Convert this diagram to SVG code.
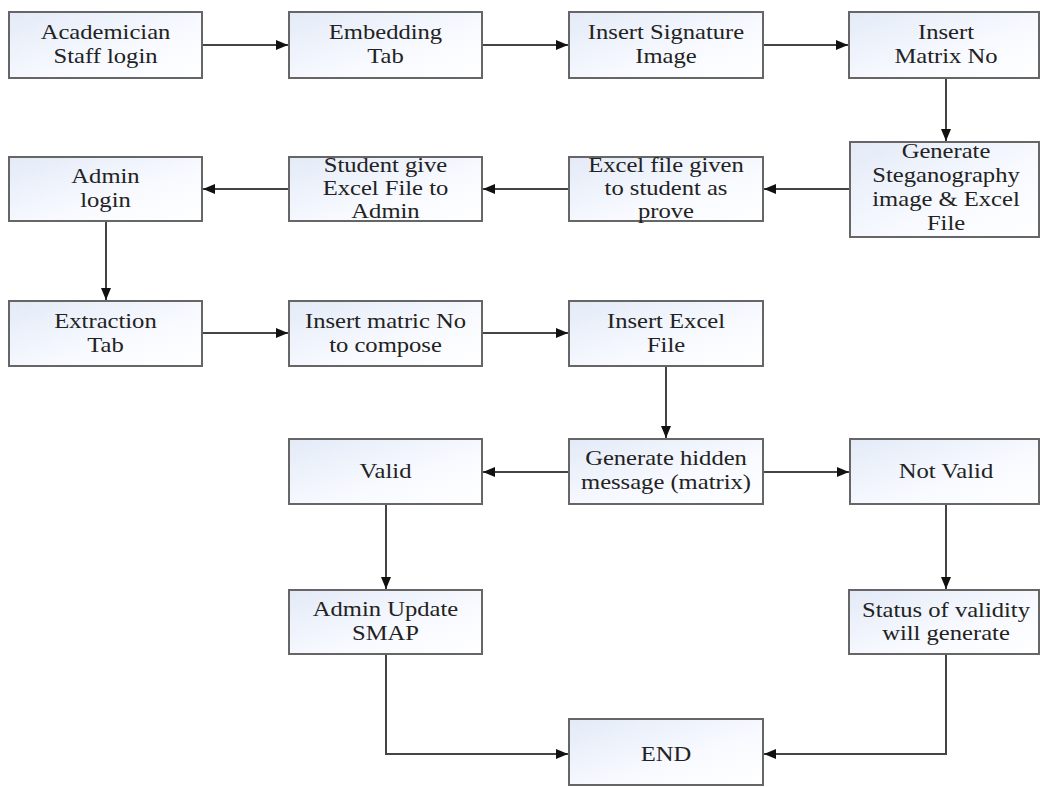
<svg xmlns="http://www.w3.org/2000/svg" width="1040" height="787" viewBox="0 0 1040 787">
<defs>
<linearGradient id="fillGrad" x1="0" y1="0" x2="1" y2="1">
<stop offset="0" stop-color="#e3eaf7"/>
<stop offset="0.6" stop-color="#f8faff"/>
<stop offset="1" stop-color="#ffffff"/>
</linearGradient>
<marker id="arr" markerUnits="userSpaceOnUse" markerWidth="13" markerHeight="11" refX="12" refY="5" orient="auto">
<path d="M0,0 L12,5 L0,10 z" fill="#111"/>
</marker>
<style>
.box{fill:url(#fillGrad);stroke:#666;stroke-width:2}
.lbl{font-family:"Liberation Serif","Times New Roman",serif;font-size:20.5px;fill:#222;text-anchor:middle}
.con{fill:none;stroke:#444;stroke-width:2}
</style>
</defs>
<rect width="1040" height="787" fill="#ffffff"/>
<g id="connectors">
<path class="con" d="M202,45 H288" marker-end="url(#arr)"/>
<path class="con" d="M482,45 H568" marker-end="url(#arr)"/>
<path class="con" d="M763,45 H848" marker-end="url(#arr)"/>
<path class="con" d="M946,78 V141" marker-end="url(#arr)"/>
<path class="con" d="M850,189 H764" marker-end="url(#arr)"/>
<path class="con" d="M569,189 H483" marker-end="url(#arr)"/>
<path class="con" d="M289,189 H203" marker-end="url(#arr)"/>
<path class="con" d="M106,221 V300" marker-end="url(#arr)"/>
<path class="con" d="M202,333 H288" marker-end="url(#arr)"/>
<path class="con" d="M482,333 H568" marker-end="url(#arr)"/>
<path class="con" d="M666,366 V438" marker-end="url(#arr)"/>
<path class="con" d="M569,472 H483" marker-end="url(#arr)"/>
<path class="con" d="M763,472 H849" marker-end="url(#arr)"/>
<path class="con" d="M386,504 V589" marker-end="url(#arr)"/>
<path class="con" d="M946,504 V589" marker-end="url(#arr)"/>
<path class="con" d="M386,654 V754 H568" marker-end="url(#arr)"/>
<path class="con" d="M946,654 V754 H764" marker-end="url(#arr)"/>
</g>
<g id="n1">
<rect class="box" x="9" y="12" width="193" height="66"/>
<text class="lbl" transform="translate(105.5,39) scale(1.2,1)">Academician</text>
<text class="lbl" transform="translate(105.5,63) scale(1.2,1)">Staff login</text>
</g>
<g id="n2">
<rect class="box" x="289" y="12" width="193" height="66"/>
<text class="lbl" transform="translate(385.5,39) scale(1.2,1)">Embedding</text>
<text class="lbl" transform="translate(385.5,63) scale(1.2,1)">Tab</text>
</g>
<g id="n3">
<rect class="box" x="569" y="12" width="194" height="66"/>
<text class="lbl" transform="translate(666,39) scale(1.2,1)">Insert Signature</text>
<text class="lbl" transform="translate(666,63) scale(1.2,1)">Image</text>
</g>
<g id="n4">
<rect class="box" x="849" y="12" width="190" height="66"/>
<text class="lbl" transform="translate(946,39) scale(1.2,1)">Insert</text>
<text class="lbl" transform="translate(946,63) scale(1.2,1)">Matrix No</text>
</g>
<g id="n5">
<rect class="box" x="850" y="142" width="189" height="95"/>
<text class="lbl" transform="translate(946,158) scale(1.2,1)">Generate</text>
<text class="lbl" transform="translate(946,182) scale(1.2,1)">Steganography</text>
<text class="lbl" transform="translate(946,206) scale(1.2,1)">image &amp; Excel</text>
<text class="lbl" transform="translate(946,230) scale(1.2,1)">File</text>
</g>
<g id="n6">
<rect class="box" x="569" y="157" width="194" height="64"/>
<text class="lbl" transform="translate(666,172) scale(1.2,1)">Excel file given</text>
<text class="lbl" transform="translate(666,195) scale(1.2,1)">to student as</text>
<text class="lbl" transform="translate(666,218) scale(1.2,1)">prove</text>
</g>
<g id="n7">
<rect class="box" x="289" y="157" width="193" height="64"/>
<text class="lbl" transform="translate(385.5,172) scale(1.2,1)">Student give</text>
<text class="lbl" transform="translate(385.5,195) scale(1.2,1)">Excel File to</text>
<text class="lbl" transform="translate(385.5,218) scale(1.2,1)">Admin</text>
</g>
<g id="n8">
<rect class="box" x="9" y="157" width="193" height="64"/>
<text class="lbl" transform="translate(105.5,183) scale(1.2,1)">Admin</text>
<text class="lbl" transform="translate(105.5,207) scale(1.2,1)">login</text>
</g>
<g id="n9">
<rect class="box" x="9" y="301" width="193" height="65"/>
<text class="lbl" transform="translate(105.5,328) scale(1.2,1)">Extraction</text>
<text class="lbl" transform="translate(105.5,352) scale(1.2,1)">Tab</text>
</g>
<g id="n10">
<rect class="box" x="289" y="301" width="193" height="65"/>
<text class="lbl" transform="translate(385.5,328) scale(1.2,1)">Insert matric No</text>
<text class="lbl" transform="translate(385.5,352) scale(1.2,1)">to compose</text>
</g>
<g id="n11">
<rect class="box" x="569" y="301" width="194" height="65"/>
<text class="lbl" transform="translate(666,328) scale(1.2,1)">Insert Excel</text>
<text class="lbl" transform="translate(666,352) scale(1.2,1)">File</text>
</g>
<g id="n12">
<rect class="box" x="569" y="439" width="194" height="65"/>
<text class="lbl" transform="translate(666,465) scale(1.2,1)">Generate hidden</text>
<text class="lbl" transform="translate(666,489) scale(1.2,1)">message (matrix)</text>
</g>
<g id="n13">
<rect class="box" x="289" y="439" width="193" height="65"/>
<text class="lbl" transform="translate(385.5,478) scale(1.2,1)">Valid</text>
</g>
<g id="n14">
<rect class="box" x="850" y="439" width="189" height="65"/>
<text class="lbl" transform="translate(946,478) scale(1.2,1)">Not Valid</text>
</g>
<g id="n15">
<rect class="box" x="289" y="590" width="193" height="64"/>
<text class="lbl" transform="translate(385.5,616) scale(1.2,1)">Admin Update</text>
<text class="lbl" transform="translate(385.5,640) scale(1.2,1)">SMAP</text>
</g>
<g id="n16">
<rect class="box" x="849" y="590" width="190" height="64"/>
<text class="lbl" transform="translate(946,617) scale(1.2,1)">Status of validity</text>
<text class="lbl" transform="translate(946,640) scale(1.2,1)">will generate</text>
</g>
<g id="n17">
<rect class="box" x="569" y="719" width="194" height="66"/>
<text class="lbl" transform="translate(666,761) scale(1.2,1)">END</text>
</g>
</svg>
